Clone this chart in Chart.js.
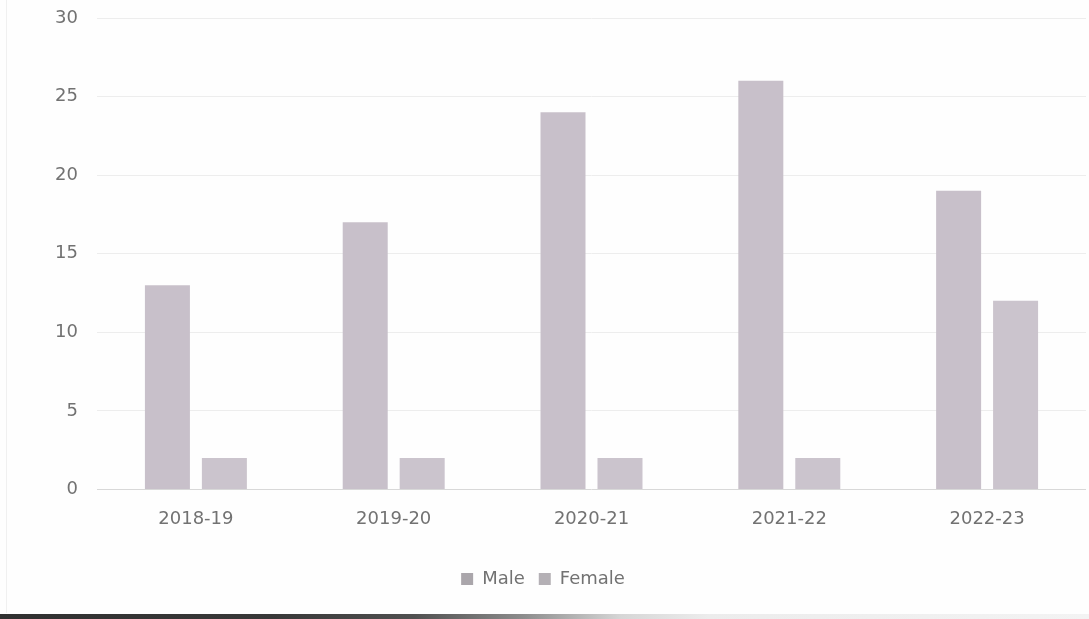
<!DOCTYPE html>
<html>
<head>
<meta charset="utf-8">
<script src="https://cdn.jsdelivr.net/npm/chart.js@4.4.1/dist/chart.umd.min.js"></script>
<style>
  html, body { margin: 0; padding: 0; background: #ffffff; }
  #wrap { position: relative; width: 1089px; height: 619px; overflow: hidden; background: #fefefe; }
  #wrap canvas { position: absolute; left: 0; top: 0; }
  #edge { position: absolute; left: 6px; top: 0; width: 1px; height: 613px; background: #f0f0f0; }
  #base { position: absolute; left: 0; bottom: 0; width: 1089px; height: 5px;
          background: linear-gradient(to right, #303030 0%, #383838 25%, #505050 38%, #8c8c8c 48%, #d6d6d6 57%, #ececec 65%, #f3f3f3 100%); }
</style>
</head>
<body>
<div id="wrap">
  <canvas id="chart" width="1089" height="619"></canvas>
  <div id="edge"></div>
  <div id="base"></div>
</div>
<script>
// Admissions by academic year, split by gender
const years = ['2018-19', '2019-20', '2020-21', '2021-22', '2022-23'];
const maleCounts = [13, 17, 24, 26, 19];
const femaleCounts = [2, 2, 2, 2, 12];
const yTicks = [0, 5, 10, 15, 20, 25, 30];

const textColor = '#727272';
const font = { family: '"DejaVu Sans", sans-serif', size: 18 };

new Chart(document.getElementById('chart'), {
  type: 'bar',
  data: {
    labels: years,
    datasets: [
      { label: 'Male', data: maleCounts, backgroundColor: '#c8c0ca', legendColor: '#aaa6ab' },
      { label: 'Female', data: femaleCounts, backgroundColor: '#cbc4cd', legendColor: '#b4b0b5' }
    ]
  },
  options: {
    responsive: false,
    animation: false,
    events: [],
    layout: { padding: { top: 18, right: 3, bottom: 21, left: 0 } },
    datasets: { bar: { categoryPercentage: 0.576, barPercentage: 0.79 } },
    scales: {
      x: {
        grid: { display: false, drawTicks: false },
        border: { display: false },
        ticks: { color: textColor, font: font, padding: 19, maxRotation: 0 },
        afterFit: (scale) => { scale.height += 7; }
      },
      y: {
        min: 0,
        max: 30,
        afterBuildTicks: (scale) => { scale.ticks = yTicks.map(v => ({ value: v })); },
        grid: {
          drawTicks: false,
          color: (ctx) => ctx.tick && ctx.tick.value === 0 ? '#d8d8d8' : '#ededed',
          lineWidth: 1
        },
        border: { display: false },
        ticks: { color: textColor, font: font, padding: 19 },
        afterFit: (scale) => {
          scale.width = 97;
          scale.paddingTop = 0;
          scale.paddingBottom = 0;
        }
      }
    },
    plugins: {
      tooltip: { enabled: false },
      legend: {
        position: 'bottom',
        labels: {
          color: textColor,
          font: font,
          boxWidth: 12,
          boxHeight: 12,
          padding: 14,
          generateLabels: (chart) => chart.data.datasets.map((ds, i) => ({
            text: ds.label,
            fillStyle: ds.legendColor,
            strokeStyle: ds.legendColor,
            lineWidth: 0,
            fontColor: textColor,
            hidden: false,
            datasetIndex: i
          }))
        }
      }
    }
  }
});
</script>
</body>
</html>
